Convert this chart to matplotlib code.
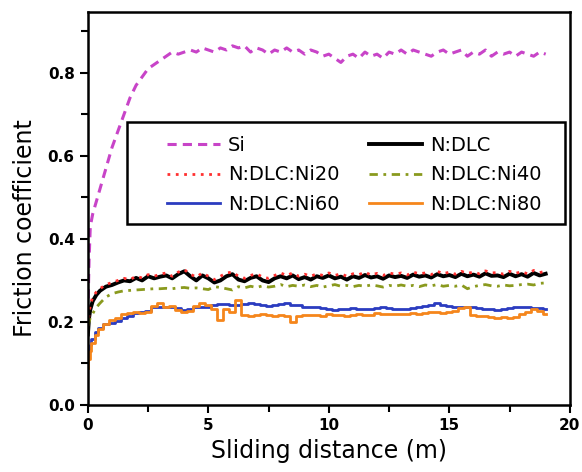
import numpy as np
import matplotlib
matplotlib.use("Agg")
import matplotlib.pyplot as plt
from matplotlib.ticker import MultipleLocator
from matplotlib.patches import Rectangle

# sliding distance (m): dense start, then every 0.25 m
dist = [0, 0.05, 0.1, 0.2, 0.35, 0.5, 0.75] + list(np.arange(1.0, 19.01, 0.25))

si = [0.22, 0.35, 0.43, 0.46, 0.49, 0.52, 0.57,
      0.62, 0.66, 0.70, 0.74,
      0.77, 0.79, 0.81, 0.82,
      0.83, 0.84, 0.85, 0.845,
      0.85, 0.855, 0.85, 0.86,
      0.855, 0.85, 0.86, 0.855,
      0.865, 0.86, 0.865, 0.85,
      0.86, 0.855, 0.845, 0.855,
      0.85, 0.86, 0.85, 0.855,
      0.845, 0.855, 0.85, 0.84,
      0.845, 0.835, 0.825, 0.84,
      0.845, 0.835, 0.85, 0.84,
      0.845, 0.835, 0.85, 0.845,
      0.855, 0.845, 0.855, 0.85,
      0.845, 0.84, 0.85, 0.855,
      0.845, 0.85, 0.855, 0.84,
      0.85, 0.845, 0.855, 0.84,
      0.85, 0.845, 0.85, 0.84,
      0.85, 0.845, 0.84, 0.85,
      0.845]

dlc = [0.17, 0.21, 0.23, 0.25, 0.265, 0.275, 0.285,
       0.289, 0.295, 0.30, 0.298,
       0.306, 0.30, 0.31, 0.305,
       0.309, 0.312, 0.305, 0.315,
       0.322, 0.31, 0.30, 0.312,
       0.305, 0.295, 0.30, 0.31,
       0.315, 0.302, 0.298, 0.306,
       0.31, 0.30, 0.296, 0.305,
       0.31, 0.305, 0.312, 0.303,
       0.308, 0.302, 0.31, 0.306,
       0.312, 0.305, 0.309, 0.302,
       0.31, 0.306, 0.313, 0.307,
       0.31, 0.304, 0.312, 0.308,
       0.311, 0.306, 0.314, 0.309,
       0.312, 0.307, 0.315, 0.31,
       0.313, 0.308, 0.316, 0.31,
       0.314, 0.309, 0.317, 0.311,
       0.312, 0.308, 0.316, 0.31,
       0.315, 0.309, 0.318, 0.312,
       0.316]

ni20 = [0.19, 0.22, 0.24, 0.26, 0.272, 0.28, 0.29,
        0.295, 0.30, 0.305, 0.302,
        0.31, 0.306, 0.314, 0.31,
        0.315, 0.318, 0.31, 0.32,
        0.326, 0.315, 0.308, 0.318,
        0.31, 0.302, 0.31, 0.318,
        0.32, 0.31, 0.305, 0.312,
        0.316, 0.308, 0.305, 0.312,
        0.318, 0.312, 0.318, 0.31,
        0.315, 0.31, 0.316, 0.312,
        0.318, 0.312, 0.316, 0.31,
        0.316, 0.314, 0.32, 0.313,
        0.317, 0.312, 0.318, 0.315,
        0.318, 0.313, 0.32, 0.316,
        0.318, 0.314, 0.322, 0.316,
        0.32, 0.315, 0.322, 0.317,
        0.32, 0.316, 0.323, 0.318,
        0.319, 0.315, 0.322, 0.317,
        0.321, 0.316, 0.324, 0.319,
        0.322]

ni40 = [0.19, 0.20, 0.21, 0.22, 0.235, 0.245, 0.26,
        0.268, 0.272, 0.275, 0.276,
        0.277, 0.278, 0.279, 0.28,
        0.28, 0.281, 0.28, 0.282,
        0.283, 0.281, 0.282, 0.28,
        0.278, 0.285, 0.283, 0.28,
        0.277, 0.285, 0.282, 0.286,
        0.283, 0.287, 0.284, 0.286,
        0.29, 0.285, 0.288, 0.286,
        0.289, 0.285, 0.288, 0.284,
        0.287, 0.29, 0.286, 0.288,
        0.285, 0.288, 0.286, 0.289,
        0.287, 0.284, 0.288, 0.286,
        0.289, 0.286, 0.288, 0.285,
        0.289, 0.287, 0.29, 0.286,
        0.288, 0.286, 0.289, 0.28,
        0.285, 0.288, 0.29, 0.287,
        0.286, 0.289, 0.287, 0.288,
        0.29, 0.291, 0.289, 0.293,
        0.294]

ni60 = [0.11, 0.13, 0.145, 0.16, 0.175, 0.185, 0.195,
        0.198, 0.203, 0.21, 0.215,
        0.222, 0.224, 0.226, 0.235,
        0.236, 0.236, 0.235, 0.233,
        0.229, 0.232, 0.235, 0.237,
        0.236, 0.241, 0.244, 0.243,
        0.242, 0.24, 0.243, 0.245,
        0.243, 0.24, 0.238, 0.24,
        0.243, 0.245, 0.242, 0.24,
        0.236, 0.235, 0.236, 0.233,
        0.232, 0.229, 0.23, 0.232,
        0.234, 0.23, 0.232, 0.23,
        0.233, 0.236, 0.234, 0.231,
        0.23, 0.232, 0.234, 0.236,
        0.238, 0.242, 0.245, 0.24,
        0.238, 0.236, 0.237, 0.236,
        0.235, 0.233, 0.232, 0.23,
        0.229, 0.231, 0.234, 0.235,
        0.236, 0.235, 0.233, 0.234,
        0.232]

ni80 = [0.09, 0.11, 0.13, 0.15, 0.168, 0.182, 0.195,
        0.205, 0.21, 0.218, 0.222,
        0.224, 0.222, 0.225, 0.238,
        0.245, 0.236, 0.238, 0.228,
        0.224, 0.226, 0.238, 0.245,
        0.24, 0.232, 0.205, 0.23,
        0.225, 0.252, 0.217, 0.215,
        0.216, 0.218, 0.216, 0.215,
        0.216, 0.215, 0.20, 0.215,
        0.217, 0.216, 0.216, 0.215,
        0.218, 0.216, 0.217, 0.215,
        0.216, 0.218, 0.217, 0.216,
        0.221, 0.219, 0.22, 0.218,
        0.219, 0.22, 0.222, 0.22,
        0.221, 0.223, 0.224, 0.222,
        0.224, 0.226, 0.234, 0.236,
        0.217, 0.215, 0.214, 0.212,
        0.21, 0.211, 0.21, 0.213,
        0.22, 0.225, 0.23, 0.226,
        0.22]

fig = plt.figure(figsize=(5.82, 4.72), dpi=100)
ax = fig.add_axes([0.151, 0.142, 0.828, 0.833])

l_si, = ax.plot(dist, si, color="#c844c8", ls=(0, (3, 2)), lw=2.2, label="Si")
l_dlc, = ax.plot(dist, dlc, color="black", ls="-", lw=2.8, label="N:DLC")
l_20, = ax.plot(dist, ni20, color="#ff3030", ls=(0, (1, 2)), lw=2, label="N:DLC:Ni20")
l_40, = ax.plot(dist, ni40, color="#8a9a1e", ls=(0, (3, 2, 1, 2)), lw=2, label="N:DLC:Ni40")
l_60, = ax.plot(dist, ni60, color="#2b3cc0", ls="-", lw=2, drawstyle="steps-mid", label="N:DLC:Ni60")
l_80, = ax.plot(dist, ni80, color="#f5861c", ls="-", lw=2, drawstyle="steps-mid", label="N:DLC:Ni80")

ax.set_xlim(0, 20)
ax.set_ylim(0, 0.947)
ax.xaxis.set_minor_locator(MultipleLocator(2.5))
ax.yaxis.set_minor_locator(MultipleLocator(0.1))
ax.set_yticks([0, 0.2, 0.4, 0.6, 0.8])
ax.set_yticklabels(["0.0", "0.2", "0.4", "0.6", "0.8"])
ax.set_xticks([0, 5, 10, 15, 20])
ax.set_xticklabels(["0", "5", "10", "15", "20"])
ax.tick_params(which="both", direction="out", width=1.5, labelsize=11)
ax.tick_params(which="major", length=6)
ax.tick_params(which="minor", length=5)
for lab in ax.get_xticklabels() + ax.get_yticklabels():
    lab.set_fontweight("bold")
for sp in ax.spines.values():
    sp.set_linewidth(1.8)

ax.set_xlabel("Sliding distance (m)", fontsize=17, labelpad=4)
ax.set_ylabel("Friction coefficient", fontsize=17)
ax.yaxis.set_label_coords(-0.105, 0.45)

# legend box drawn separately so the entries sit inside it like the original
ax.add_patch(Rectangle((0.081, 0.4606), 0.909, 0.2595, transform=ax.transAxes,
                       facecolor="white", edgecolor="black", lw=1.8, zorder=4))
leg = ax.legend([l_si, l_20, l_60, l_dlc, l_40, l_80],
                ["Si", "N:DLC:Ni20", "N:DLC:Ni60", "N:DLC", "N:DLC:Ni40", "N:DLC:Ni80"],
                ncol=2, loc="upper left", bbox_to_anchor=(0.164, 0.685),
                fontsize=14, handlelength=2.75, handletextpad=0.4,
                columnspacing=1.5, labelspacing=0.55, borderpad=0,
                borderaxespad=0, frameon=False)
leg.set_zorder(5)

fig.savefig("out.png", dpi=100)
